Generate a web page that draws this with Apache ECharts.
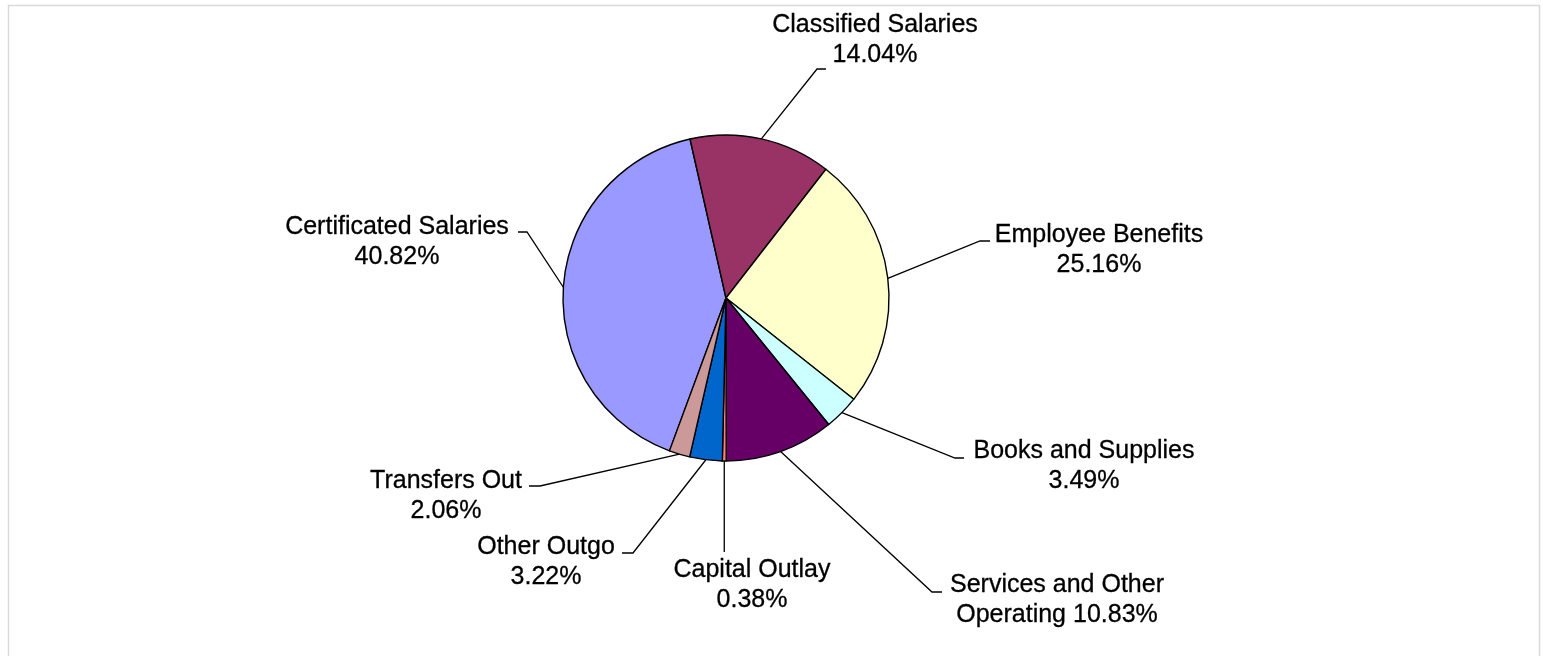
<!DOCTYPE html>
<html>
<head>
<meta charset="utf-8">
<title>Expenditures by Object</title>
<script src="https://cdn.jsdelivr.net/npm/echarts@6/dist/echarts.min.js"></script>
<style>
  html, body { margin: 0; padding: 0; background: #ffffff; }
  #chart { width: 1543px; height: 656px; }
</style>
</head>
<body>
<div id="chart"></div>
<script>
// Share of total expenditures by object (percent)
const categories = [
  'Certificated Salaries',
  'Classified Salaries',
  'Employee Benefits',
  'Books and Supplies',
  'Services and Other Operating',
  'Capital Outlay',
  'Other Outgo',
  'Transfers Out'
];
const shares = [40.82, 14.04, 25.16, 3.49, 10.83, 0.38, 3.22, 2.06];

const sliceColors = ['#9999FF', '#993366', '#FFFFCC', '#CCFFFF', '#660066', '#FF8080', '#0066CC', '#CC9999'];

// Label placement: centre x / top y of each label block, plus the leader-line elbow and end
const labelPlacement = [
  { x: 397,  y: 212, elbow: [527, 232], end: [518, 232] },
  { x: 875,  y: 10,  elbow: [817, 69],  end: [826, 69] },
  { x: 1099, y: 220, elbow: [980, 241], end: [990, 241] },
  { x: 1084, y: 436, elbow: [955, 458], end: [964, 458] },
  { x: 1057, y: 570, elbow: [932, 592], end: [942, 592] },
  { x: 752,  y: 555, elbow: null,       end: [null, 552] },
  { x: 546,  y: 532, elbow: [633, 553], end: [622, 553] },
  { x: 446,  y: 466, elbow: [540, 486], end: [529, 486] }
];

function labelText(name, value) {
  const pct = value.toFixed(2) + '%';
  if (name.length > 24) {
    const cut = name.lastIndexOf(' ');
    return name.slice(0, cut) + '\n' + name.slice(cut + 1) + ' ' + pct;
  }
  return name + '\n' + pct;
}

const chart = echarts.init(document.getElementById('chart'), null, { renderer: 'canvas' });

chart.setOption({
  backgroundColor: '#ffffff',
  animation: false,
  graphic: [{
    type: 'rect',
    silent: true,
    shape: { x: 8.5, y: 5.5, width: 1531, height: 700 },
    style: { fill: 'none', stroke: '#d9d9d9', lineWidth: 1.5 }
  }],
  series: [{
    type: 'pie',
    center: [726, 298],
    radius: 163,
    startAngle: 249.7,
    clockwise: true,
    avoidLabelOverlap: false,
    data: categories.map((name, i) => ({
      name: name,
      value: shares[i],
      itemStyle: { color: sliceColors[i] }
    })),
    itemStyle: { borderColor: '#000000', borderWidth: 1.4 },
    emphasis: { disabled: true },
    label: {
      show: true,
      position: 'outside',
      color: '#000000',
      fontFamily: '"Liberation Sans", Arial, sans-serif',
      fontSize: 25,
      lineHeight: 30,
      textBorderColor: '#000000',
      textBorderWidth: 0.3,
      formatter: (p) => labelText(p.name, p.value)
    },
    labelLine: {
      show: true,
      length: 20,
      length2: 10,
      lineStyle: { color: '#000000', width: 1.3 }
    },
    labelLayout: function (params) {
      const pl = labelPlacement[params.dataIndex];
      const start = params.labelLinePoints ? params.labelLinePoints[0] : null;
      const out = { x: pl.x, y: pl.y, align: 'center', verticalAlign: 'top' };
      if (start) {
        const pts = [start.slice()];
        if (pl.elbow) {
          pts.push(pl.elbow.slice());
          pts.push(pl.end.slice());
        } else {
          pts.push([start[0], pl.end[1]]);
        }
        out.labelLinePoints = pts;
      }
      return out;
    }
  }]
});
</script>
</body>
</html>
